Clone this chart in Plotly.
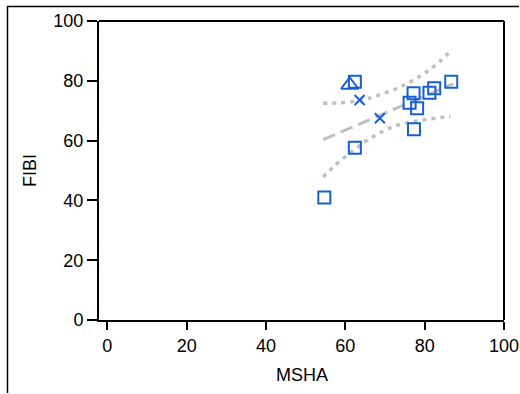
import plotly.graph_objects as go

# Data
sq_x = [62.4, 77.2, 76.2, 78.1, 81.2, 82.4, 86.7, 77.3, 62.4, 54.7]
sq_y = [79.7, 75.8, 72.7, 70.8, 76.0, 77.5, 79.7, 63.8, 57.6, 41.0]
tri_x = [61.1]
tri_y = [78.6]
cross_x = [63.6, 68.7]
cross_y = [73.6, 67.5]

fit_x = [54.4, 87.2]
fit_y = [60.3, 79.0]

upper_x = [54.4, 58, 62, 65, 68, 72, 75, 78, 81, 84, 87]
upper_y = [72.5, 72.6, 73.1, 73.8, 75.0, 76.9, 78.7, 80.9, 83.4, 86.7, 90.5]
lower_x = [54.4, 57, 60, 63, 66, 69, 72, 75, 78, 81, 84, 86.5]
lower_y = [47.8, 51.2, 54.6, 57.7, 60.5, 62.8, 64.6, 65.8, 66.6, 67.2, 67.7, 68.1]

x_ticks = [0, 20, 40, 60, 80, 100]
y_ticks = [0, 20, 40, 60, 80, 100]

blue = "#1560d4"
gray = "#c0c0c0"

fig = go.Figure()
fig.add_trace(go.Scatter(x=upper_x, y=upper_y, mode="lines",
                         line=dict(color=gray, width=3.5, dash="4px,5px", shape="spline")))
fig.add_trace(go.Scatter(x=lower_x, y=lower_y, mode="lines",
                         line=dict(color=gray, width=3.5, dash="4px,5px", shape="spline")))
fig.add_trace(go.Scatter(x=fit_x, y=fit_y, mode="lines",
                         line=dict(color=gray, width=3, dash="13px,6px")))
fig.add_trace(go.Scatter(x=sq_x, y=sq_y, mode="markers",
                         marker=dict(symbol="square-open", size=12, color=blue,
                                     line=dict(width=2, color=blue))))
fig.add_trace(go.Scatter(x=tri_x, y=tri_y, mode="markers",
                         marker=dict(symbol="triangle-up-open", size=15, color=blue,
                                     line=dict(width=2, color=blue))))
fig.add_trace(go.Scatter(x=cross_x, y=cross_y, mode="markers",
                         marker=dict(symbol="x-thin-open", size=10, color=blue,
                                     line=dict(width=2, color=blue))))

font = dict(family="Liberation Sans, Arial, sans-serif", size=18, color="#000")

W, H = 520, 394
L, R, T, B = 99, 16, 21, 74
pw, ph = W - L - R, H - T - B

def px_x(p):
    return (p - L) / pw

def px_y(p):
    return (H - B - p) / ph

frame = dict(color="#000", width=1.5)
box = dict(color="#000", width=2)

fig.update_layout(
    width=W, height=H,
    margin=dict(l=L, r=R, t=T, b=B, autoexpand=False),
    paper_bgcolor="white", plot_bgcolor="white",
    showlegend=False,
    font=font,
    xaxis=dict(range=[-2.1, 100], tickvals=x_ticks, ticks="outside", ticklen=8,
               tickwidth=2, tickcolor="#000", showline=True, linecolor="#000",
               linewidth=2, mirror=False, showgrid=False, zeroline=False,
               automargin=False, tickfont=font),
    yaxis=dict(range=[0, 100], tickvals=y_ticks, ticks="outside", ticklen=10,
               tickwidth=2, tickcolor="#000", showline=True, linecolor="#000",
               linewidth=2, mirror=False, showgrid=False, zeroline=False,
               automargin=False, tickfont=font),
    annotations=[
        dict(text="MSHA", xref="paper", yref="paper", x=0.5, y=px_y(375),
             xanchor="center", yanchor="middle", showarrow=False, font=font),
        dict(text="FIBI", xref="paper", yref="paper", x=px_x(30), y=px_y(171),
             xanchor="center", yanchor="middle", showarrow=False, font=font,
             textangle=-90),
    ],
    shapes=[
        dict(type="line", xref="paper", yref="paper",
             x0=px_x(7), x1=px_x(519), y0=px_y(6.5), y1=px_y(6.5), line=frame),
        dict(type="line", xref="paper", yref="paper",
             x0=px_x(7.5), x1=px_x(7.5), y0=px_y(6), y1=px_y(393), line=frame),
        dict(type="line", xref="paper", yref="paper",
             x0=0, x1=1, y0=1, y1=1, line=box),
        dict(type="line", xref="paper", yref="paper",
             x0=1, x1=1, y0=0, y1=1, line=box),
    ],
)

fig.write_html("out.html")
